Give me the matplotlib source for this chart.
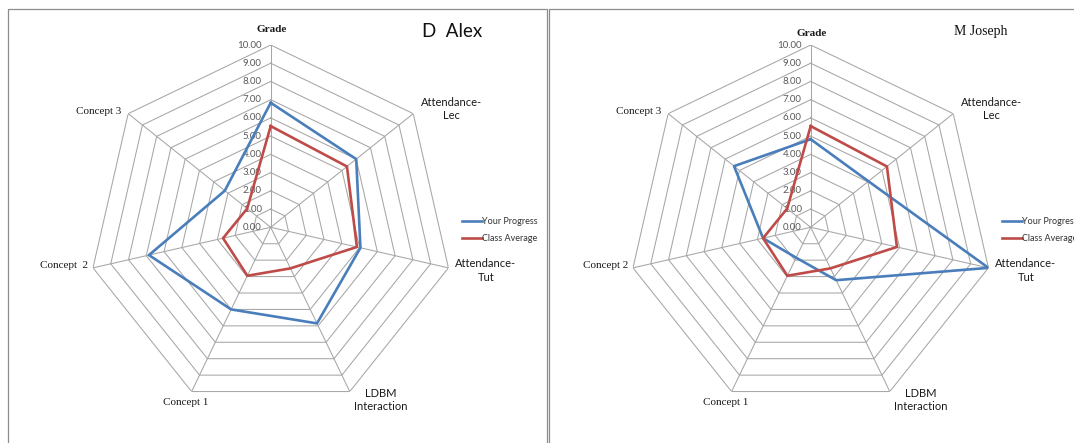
import numpy as np
import matplotlib
matplotlib.use("Agg")
import matplotlib.pyplot as plt
from matplotlib.patches import Rectangle

# scores on a 0-10 scale, clockwise from the top
categories = ["Grade", "Attendance-\nLec", "Attendance-\nTut", "LDBM\nInteraction",
              "Concept 1", "Concept 2", "Concept 3"]
alex_labels = ["Grade", "Attendance-\nLec", "Attendance-\nTut", "LDBM\nInteraction",
               "Concept 1", "Concept  2", "Concept 3"]
class_average = [5.55, 5.35, 4.85, 2.5, 2.95, 2.68, 1.65]
alex_progress = [6.83, 6.0, 5.05, 5.85, 5.0, 6.85, 3.22]
joseph_progress = [4.83, 4.05, 10.0, 3.22, 1.85, 2.68, 5.38]
rings = [0, 1, 2, 3, 4, 5, 6, 7, 8, 9, 10]

W, H = 1074, 443
R = 182.3          # radius of the 10.00 ring in pixels
PT = 0.72          # pixels -> points at dpi 100

BLUE = "#4A7EBB"
RED = "#BE4B48"
GRID = "#A6A6A6"

SERIF = "Liberation Serif"
SANS = "Lato"

# per-axis label style: (offset x px, offset y px, ha, family, weight)
label_style = [
    (0.7, 16, "center", SERIF, "bold"),
    (38.5, 4.7, "center", SANS, "normal"),
    (37.3, -2.4, "center", SANS, "normal"),
    (31.4, -8.6, "center", SANS, "normal"),
    (-6.4, -10.7, "center", SERIF, "normal"),
    (-5, 1.9, "right", SERIF, "normal"),
    (-6.8, 1.9, "right", SERIF, "normal"),
]

fig = plt.figure(figsize=(W / 100, H / 100), dpi=100)
fig.patch.set_facecolor("white")


def px(x, y):
    return x / W, 1 - y / H


# panel frames
for x0, x1 in [(8, 547.3), (549, 1200)]:
    fig.add_artist(Rectangle(px(x0, 500), (x1 - x0) / W, (500 - 9.3) / H,
                             transform=fig.transFigure, fill=False,
                             edgecolor="#8C8C8C", linewidth=0.9))


def radar(cx, cy, labels, mine, grade_dy):
    ax = fig.add_axes([(cx - R) / W, (H - cy - R) / H, 2 * R / W, 2 * R / H],
                      projection="polar")
    ax.set_theta_offset(np.pi / 2)
    ax.set_theta_direction(-1)
    ax.set_ylim(0, 10)
    ax.grid(False)
    ax.set_xticks([])
    ax.set_yticks([])
    ax.spines["polar"].set_visible(False)
    ax.patch.set_visible(False)

    n = len(labels)
    theta = np.linspace(0, 2 * np.pi, n, endpoint=False)
    closed = np.append(theta, theta[0])

    for r in rings[1:]:
        ax.plot(closed, [r] * (n + 1), color=GRID, lw=0.75, zorder=1)
    for t in theta:
        ax.plot([t, t], [0, 10], color=GRID, lw=0.75, zorder=1)

    for r in rings:
        ax.annotate(f"{r:.2f}", xy=(0, r), xytext=(-6.5, 0), textcoords="offset points",
                    ha="right", va="center", fontsize=7, family=SANS, color="#595959")

    l1, = ax.plot(closed, mine + mine[:1], color=BLUE, lw=1.9, zorder=3,
                  label="Your Progress")
    l2, = ax.plot(closed, class_average + class_average[:1], color=RED, lw=1.9,
                  zorder=4, label="Class Average")

    for i, (t, lab) in enumerate(zip(theta, labels)):
        dx, dy, ha, fam, wt = label_style[i]
        if i == 0:
            dy = grade_dy
        ax.annotate(lab, xy=(t, 10), xytext=(dx * PT, dy * PT), textcoords="offset points",
                    ha=ha, va="center", multialignment="center", linespacing=1.3,
                    fontsize=8, family=fam, weight=wt, color="#1A1A1A",
                    annotation_clip=False)

    fig.legend(handles=[l1, l2], loc="center left",
               bbox_to_anchor=px(cx + 191, 230), bbox_transform=fig.transFigure,
               frameon=False, fontsize=6.5, prop={"family": SANS, "size": 6.5},
               handlelength=2.2, handletextpad=0.0, borderpad=0, borderaxespad=0,
               labelspacing=0.95, labelcolor="#333333")
    return ax


radar(270.7, 227.3, alex_labels, alex_progress, 16)
radar(810.7, 227.3, categories, joseph_progress, 12)

fig.text(*px(452, 31.7), "D  Alex", ha="center", va="center",
         fontsize=13.5, family=SANS, color="#111111")
fig.text(*px(980.8, 31.7), "M Joseph", ha="center", va="center",
         fontsize=10, family=SERIF, color="#111111")

fig.savefig("out.png", dpi=100, facecolor="white")
